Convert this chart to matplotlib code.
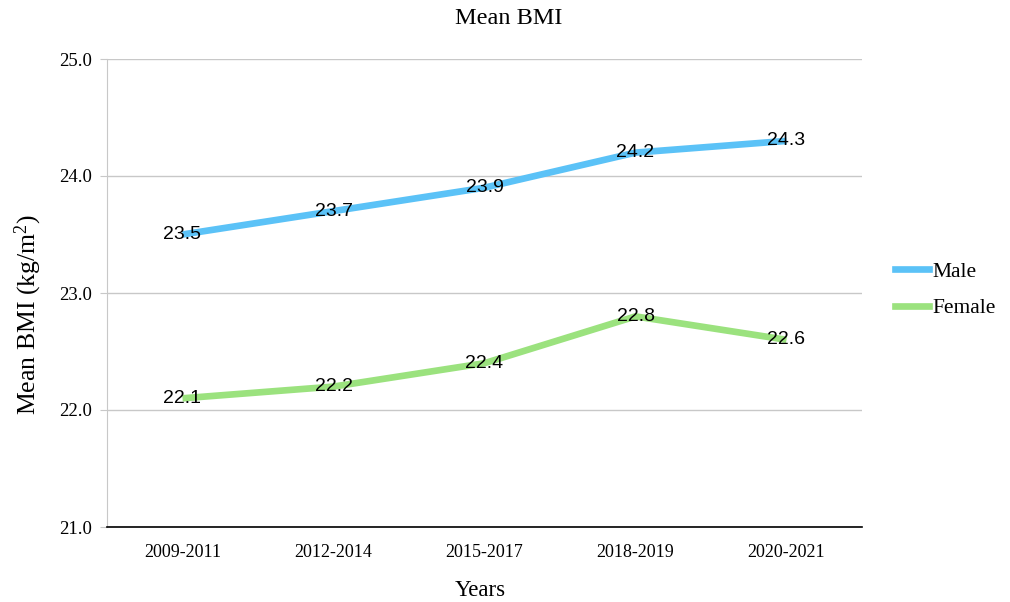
import matplotlib
matplotlib.use("Agg")
import matplotlib.pyplot as plt
from matplotlib.lines import Line2D

categories = ["2009-2011", "2012-2014", "2015-2017", "2018-2019", "2020-2021"]
male = [23.5, 23.7, 23.9, 24.2, 24.3]
female = [22.1, 22.2, 22.4, 22.8, 22.6]
yticks = [21.0, 22.0, 23.0, 24.0, 25.0]

plt.rcParams["mathtext.fontset"] = "custom"
plt.rcParams["mathtext.rm"] = "Liberation Serif"
plt.rcParams["mathtext.it"] = "Liberation Serif:italic"

serif = ["Liberation Serif", "DejaVu Serif"]
sans = ["Liberation Sans", "DejaVu Sans"]
blue = "#5BC2F7"
green = "#9BE27E"

fig = plt.figure(figsize=(10.1, 6.02), dpi=100)
ax = fig.add_axes([107/1010, 1-527/602, (862-107)/1010, (527-59)/602])

x = list(range(len(categories)))
ax.plot(x, male, color=blue, lw=4.8, solid_capstyle="butt", zorder=3)
ax.plot(x, female, color=green, lw=4.8, solid_capstyle="butt", zorder=3)
for xi, v in zip(x, male):
    ax.text(xi, v, f"{v:.1f}", ha="center", va="center", fontsize=14, family=sans, zorder=4)
for xi, v in zip(x, female):
    ax.text(xi, v, f"{v:.1f}", ha="center", va="center", fontsize=14, family=sans, zorder=4)

ax.set_xlim(-0.5, len(categories) - 0.5)
ax.set_ylim(21.0, 25.0)
ax.set_yticks(yticks)
ax.set_yticklabels([f"{t:.1f}" for t in yticks], family=serif, fontsize=13.5)
ax.set_xticks(x)
ax.set_xticklabels(categories, family=serif, fontsize=13)
ax.tick_params(axis="x", length=0, pad=12)
ax.tick_params(axis="y", length=5, color="#c8c8c8", pad=6)
ax.grid(axis="y", color="#c8c8c8", lw=1)
ax.set_axisbelow(True)
for s in ["top", "right"]:
    ax.spines[s].set_visible(False)
ax.spines["left"].set_color("#c8c8c8")
ax.spines["bottom"].set_color("black")
ax.spines["bottom"].set_linewidth(1.2)

fig.text(480/1010, 1-590/602, "Years", ha="center", va="center", family=serif, fontsize=16.5)
fig.text(28/1010, 1-315/602, r"Mean BMI (kg/m$^\mathrm{2}$)", ha="center", va="center",
         rotation=90, family=serif, fontsize=18.5)
fig.text(509/1010, 1-18/602, "Mean BMI", ha="center", va="center", family=serif, fontsize=17.5)

handles = [Line2D([0], [0], color=blue, lw=4.8), Line2D([0], [0], color=green, lw=4.8)]
fig.legend(handles, ["Male", "Female"], loc="center left", bbox_to_anchor=(895/1010, 1-290/602),
           frameon=False, prop={"family": serif, "size": 15.5}, handlelength=1.6,
           handletextpad=0.15, labelspacing=0.75, borderpad=0, borderaxespad=0)

fig.savefig("out.png", dpi=100)
